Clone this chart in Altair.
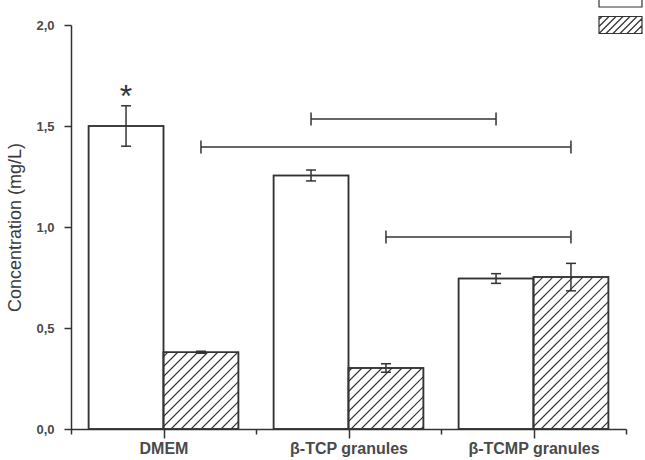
import altair as alt
import pandas as pd

# ---------------- data ----------------
categories = ["DMEM", "β-TCP granules", "β-TCMP granules"]
series = ["Series 1", "Series 2"]          # open bars, hatched bars
open_means = [1.50, 1.255, 0.745]
open_errs = [0.100, 0.027, 0.024]
hatched_means = [0.380, 0.302, 0.752]
hatched_errs = [0.005, 0.021, 0.068]
star_labels = ["*", "", ""]                 # marks above the open bars
bracket_from = [(1, 0), (0, 1), (1, 1)]     # (category index, series index)
bracket_to = [(2, 0), (2, 1), (2, 1)]
bracket_levels = [1.535, 1.396, 0.950]
y_ticks = [0.0, 0.5, 1.0, 1.5, 2.0]
y_title = "Concentration (mg/L)"

# ---------------- layout / style constants ----------------
W, H = 555, 404
Y_MAX = 2.0
N = len(categories)
XPX = W / N
YPX = H / Y_MAX
PAD = 0.095
HATCH_STEP = 10.0
HATCH_SLOPE = 1.0
INK = "#333333"
FONT = "Liberation Sans"


def bar_span(i, s):
    if s == 0:
        return i + PAD, i + 0.5
    return i + 0.5, i + 1 - PAD


rows = []
for i, c in enumerate(categories):
    for s, (means, errs) in enumerate([(open_means, open_errs), (hatched_means, hatched_errs)]):
        x0, x1 = bar_span(i, s)
        rows.append(dict(category=c, series=series[s], x0=x0, x1=x1, xc=(x0 + x1) / 2,
                         value=means[i], lo=means[i] - errs[i], hi=means[i] + errs[i]))
bars = pd.DataFrame(rows)


def hatch_segments(x0p, x1p, hp, step, slope):
    segs = []
    k = int((x0p - hp / slope) // step) - 1
    while k * step < x1p:
        c = k * step
        xa, xb = max(x0p, c), min(x1p, c + hp / slope)
        if xb > xa:
            segs.append((xa, slope * (xa - c), xb, slope * (xb - c)))
        k += 1
    return segs


hrows = []
for r in rows:
    if r["series"] != series[1]:
        continue
    for (xa, ya, xb, yb) in hatch_segments(r["x0"] * XPX, r["x1"] * XPX, r["value"] * YPX,
                                           HATCH_STEP, HATCH_SLOPE):
        hrows.append(dict(x=xa / XPX, y=ya / YPX, x2=xb / XPX, y2=yb / YPX))
hatch = pd.DataFrame(hrows)

centers = {(i, s): (bar_span(i, s)[0] + bar_span(i, s)[1]) / 2 for i in range(N) for s in range(2)}
CAP = 6.5 / YPX
brows, bcaps = [], []
for a, b, lev in zip(bracket_from, bracket_to, bracket_levels):
    xa, xb = centers[a], centers[b]
    brows.append(dict(x=xa, x2=xb, y=lev))
    bcaps.append(dict(x=xa, y=lev - CAP, y2=lev + CAP))
    bcaps.append(dict(x=xb, y=lev - CAP, y2=lev + CAP))
brk = pd.DataFrame(brows)
brkcaps = pd.DataFrame(bcaps)

stars = pd.DataFrame([dict(x=centers[(i, 0)], y=open_means[i] + open_errs[i], t=star_labels[i])
                      for i in range(N) if star_labels[i]])

# legend symbols (custom paths in -1..1 unit box, 43x17 px box)
LW, LH = 43.0, 17.0
u = LH / 2
rect_path = f"M{-LW/2/u:.3f},-1H{LW/2/u:.3f}V1H{-LW/2/u:.3f}Z"
hp = rect_path
for (xa, ya, xb, yb) in hatch_segments(0, LW, LH, 7.0, 1.0):
    hp += f"M{(xa-LW/2)/u:.3f},{-(ya-LH/2)/u:.3f}L{(xb-LW/2)/u:.3f},{-(yb-LH/2)/u:.3f}"
legend_df = pd.DataFrame(dict(series=series, x=[0.0, 0.0], y=[0.0, 0.0]))

xs = alt.Scale(domain=[0, N], nice=False, zero=False)
ys = alt.Scale(domain=[0, Y_MAX], nice=False)

x_vals = [k * 0.5 for k in range(2 * N + 1)]
label_expr = " : ".join(f"datum.value == {i + 0.5} ? '{c}'" for i, c in enumerate(categories)) + " : ''"

x_axis = alt.Axis(values=x_vals, labelExpr=label_expr, title=None, grid=False,
                  tickSize={"condition": {"test": "datum.value % 1 != 0", "value": 9}, "value": 5},
                  labelPadding=2, labelFontSize=16, labelFontWeight="bold", labelColor="#4a4a4a",
                  labelFont=FONT, domainColor=INK, domainWidth=1.5, tickColor=INK, tickWidth=1.5,
                  labelAngle=0)
y_axis = alt.Axis(values=y_ticks, labelExpr="replace(format(datum.value, '.1f'), '.', ',')",
                  title=y_title, grid=False, tickSize=7, labelPadding=10, labelFontSize=13,
                  labelFontWeight="bold", labelColor="#4a4a4a", labelFont=FONT,
                  titleFont=FONT, titleFontSize=18, titleFontWeight="normal", titleColor="#3a3a3a",
                  titlePadding=11, domainColor=INK, domainWidth=1.5, tickColor=INK, tickWidth=1.5)

base_bars = alt.Chart(bars).mark_rect(fill="white", stroke=INK, strokeWidth=1.5).encode(
    x=alt.X("x0:Q", scale=xs, axis=x_axis), x2="x1:Q",
    y=alt.Y("value:Q", scale=ys, axis=y_axis), y2=alt.datum(0))

hatch_layer = alt.Chart(hatch).mark_rule(stroke=INK, strokeWidth=1.1).encode(
    x="x:Q", x2="x2:Q", y="y:Q", y2="y2:Q")

outline = alt.Chart(bars).mark_rect(fill=None, fillOpacity=0, stroke=INK, strokeWidth=1.5).encode(
    x="x0:Q", x2="x1:Q", y="value:Q", y2=alt.datum(0))

err_rule = alt.Chart(bars).mark_rule(stroke=INK, strokeWidth=1.5).encode(
    x="xc:Q", y="lo:Q", y2="hi:Q")
err_lo = alt.Chart(bars).mark_tick(orient="horizontal", size=10, thickness=1.5, color=INK, opacity=1).encode(
    x="xc:Q", y="lo:Q")
err_hi = alt.Chart(bars).mark_tick(orient="horizontal", size=10, thickness=1.5, color=INK, opacity=1).encode(
    x="xc:Q", y="hi:Q")

brk_line = alt.Chart(brk).mark_rule(stroke=INK, strokeWidth=1.5).encode(
    x="x:Q", x2="x2:Q", y="y:Q")
brk_cap = alt.Chart(brkcaps).mark_rule(stroke=INK, strokeWidth=1.5).encode(
    x="x:Q", y="y:Q", y2="y2:Q")

star = alt.Chart(stars).mark_text(fontSize=32, font=FONT, color=INK, baseline="alphabetic", dy=1).encode(
    x="x:Q", y="y:Q", text="t:N")

legend_layer = alt.Chart(legend_df).mark_point(filled=False, opacity=0, size=289).encode(
    x="x:Q", y="y:Q",
    shape=alt.Shape("series:N", scale=alt.Scale(domain=series, range=[rect_path, hp]),
                    legend=alt.Legend(orient="none", legendX=540, legendY=-36, title=None,
                                      symbolSize=289, symbolOpacity=1, symbolFillColor="white",
                                      symbolStrokeColor=INK, symbolStrokeWidth=1.2,
                                      labelExpr="''", labelFontSize=1, rowPadding=3.5, padding=0,
                                      symbolOffset=0, labelOffset=0)))

chart = alt.layer(base_bars, hatch_layer, outline, err_rule, err_lo, err_hi, brk_line, brk_cap,
                  star, legend_layer).properties(
    width=W, height=H,
    autosize=alt.AutoSizeParams(type="none"),
    padding={"left": 71, "top": 25, "right": 19, "bottom": 31},
    background="white",
).configure_view(stroke=None)

chart.save("out.html", embed_options={"renderer": "svg", "actions": False})
